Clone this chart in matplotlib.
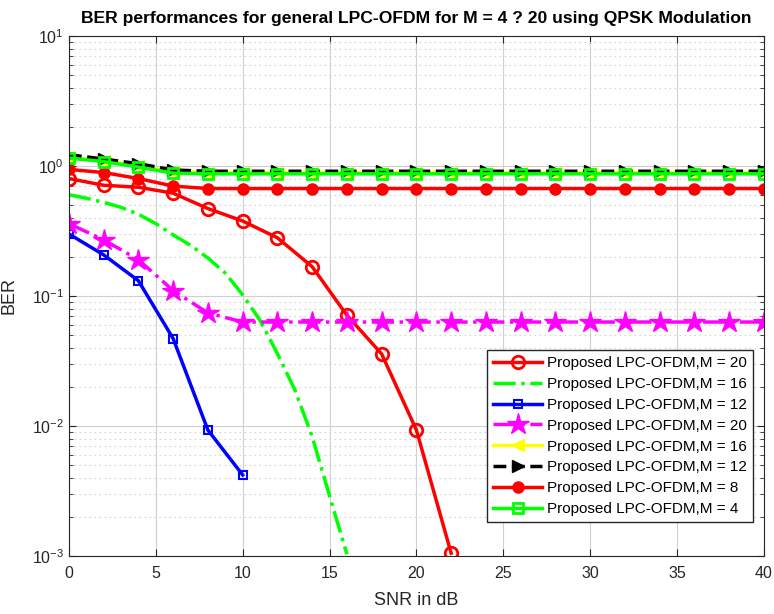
import numpy as np
import matplotlib.pyplot as plt
from matplotlib.ticker import LogLocator, NullFormatter, MultipleLocator

plt.rcParams['font.family'] = ['Liberation Sans', 'DejaVu Sans']
plt.rcParams['mathtext.fontset'] = 'custom'
plt.rcParams['mathtext.rm'] = 'Liberation Sans'

# Data
snr_a = np.arange(0, 23, 2)
ber_m20 = [0.80, 0.71, 0.686, 0.617, 0.47, 0.377, 0.28, 0.168, 0.071, 0.0358, 0.0093, 0.00105]

snr_b = np.arange(0, 17, 1)
ber_m16 = [0.60, 0.565, 0.525, 0.48, 0.425, 0.36, 0.295, 0.245, 0.196, 0.15, 0.102,
           0.065, 0.036, 0.019, 0.0083, 0.0029, 0.00103]

snr_c = np.arange(0, 11, 2)
ber_m12 = [0.30, 0.207, 0.131, 0.047, 0.0093, 0.0042]

snr_d = np.arange(0, 41, 2)
ber_m20b = [0.36, 0.27, 0.19, 0.11, 0.074] + [0.063] * 16
ber_m16b = [1.17, 1.10, 1.00, 0.90] + [0.89] * 17
ber_m12b = [1.22, 1.13, 1.04, 0.93] + [0.91] * 17
ber_m8 = [0.94, 0.89, 0.80, 0.70] + [0.67] * 17
ber_m4 = [1.15, 1.08, 0.98, 0.88] + [0.87] * 17

labels = ['Proposed LPC-OFDM,M = 20', 'Proposed LPC-OFDM,M = 16', 'Proposed LPC-OFDM,M = 12',
          'Proposed LPC-OFDM,M = 20', 'Proposed LPC-OFDM,M = 16', 'Proposed LPC-OFDM,M = 12',
          'Proposed LPC-OFDM,M = 8', 'Proposed LPC-OFDM,M = 4']

fig = plt.figure(figsize=(7.74, 6.14), dpi=100)
ax = fig.add_axes([0.089, 0.0945, 0.898, 0.847])

lw = 2.5
ax.semilogy(snr_a, ber_m20, 'o-', color='#ff0000', lw=lw, ms=9, mfc='none', mew=2, label=labels[0])
ax.semilogy(snr_b, ber_m16, '-.', color='#00ff00', lw=lw, label=labels[1])
ax.semilogy(snr_c, ber_m12, 's-', color='#0000ff', lw=lw, ms=6, mfc='none', mew=1.5, label=labels[2])
ax.semilogy(snr_d, ber_m20b, '*-.', color='#ff00ff', lw=lw, ms=16, label=labels[3])
ax.semilogy(snr_d, ber_m16b, '<-', color='#ffff00', lw=lw, ms=9, label=labels[4])
ax.semilogy(snr_d, ber_m12b, '>--', color='k', lw=lw, ms=9, label=labels[5])
ax.semilogy(snr_d, ber_m8, 'o-', color='#ff0000', lw=lw, ms=8, label=labels[6])
ax.semilogy(snr_d, ber_m4, 's-', color='#00ff00', lw=lw, ms=7, mfc='none', mew=2, label=labels[7])

ax.set_xlim(0, 40)
ax.set_ylim(1e-3, 1e1)
ax.xaxis.set_major_locator(MultipleLocator(5))
ax.yaxis.set_major_locator(LogLocator(base=10, numticks=10))
ax.yaxis.set_minor_locator(LogLocator(base=10, subs=np.arange(2, 10), numticks=20))
ax.yaxis.set_minor_formatter(NullFormatter())

ax.grid(True, which='major', color='#d0d0d0', lw=0.8, ls='-')
ax.grid(True, which='minor', axis='y', color='#d4d4d4', lw=0.8, ls=(0, (1.5, 3)))
ax.tick_params(which='both', direction='in', top=True, right=True, labelsize=11.5, colors='#262626')
ax.tick_params(which='major', length=5)
ax.tick_params(axis='x', which='major', pad=7)
ax.tick_params(which='minor', length=3)
for s in ax.spines.values():
    s.set_color('#262626')
    s.set_linewidth(0.8)

ax.set_xlabel('SNR in dB', fontsize=13, color='#262626', labelpad=8)
ax.set_ylabel('BER', fontsize=13, color='#262626', labelpad=10)
ax.set_title('BER performances for general LPC-OFDM for M = 4 ? 20 using QPSK Modulation',
             fontsize=12.6, fontweight='bold', pad=9)

leg = ax.legend(loc='lower right', bbox_to_anchor=(0.995, 0.05), fontsize=11, frameon=True,
                fancybox=False, framealpha=1, edgecolor='#262626', handlelength=3.2,
                labelspacing=0.45, borderpad=0.4, handletextpad=0.3)
leg.get_frame().set_linewidth(1)

fig.savefig('out.png', dpi=100)
